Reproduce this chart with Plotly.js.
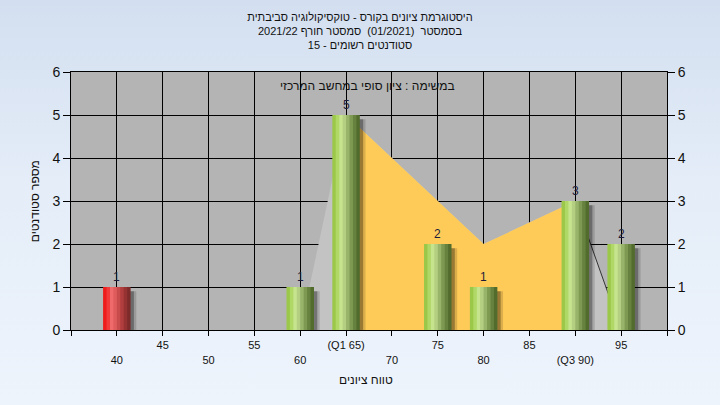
<!DOCTYPE html>
<html><head><meta charset="utf-8">
<script src="https://cdn.plot.ly/plotly-3.0.1.min.js"></script>
<style>
html,body{margin:0;padding:0;}
body{width:720px;height:405px;background:linear-gradient(to bottom,#d3dff0 0%,#e4edf8 45%,#eef4fc 100%);}
#chart{width:720px;height:405px;}
</style>
</head><body><div id="chart"></div>
<script>
// ---- data ----
const scores = [40, 45, 50, 55, 60, 65, 70, 75, 80, 85, 90, 95];
const counts = [1, 0, 0, 0, 1, 5, 0, 2, 1, 0, 3, 2];
const tickLabels = ['40', '45', '50', '55', '60', '(Q1 65)', '70', '75', '80', '85', '(Q3 90)', '95'];
const curveX = [60, 65, 80, 90, 95];
const curveY = [0, 5, 2, 3, 0];
const q1 = 65;
const q3 = 90;
const passMark = 55;
const titleLines = [
  'היסטוגרמת ציונים בקורס - טוקסיקולוגיה סביבתית',
  'בסמסטר  (01/2021)  סמסטר חורף 2021/22',
  'סטודנטים רשומים - 15'
];
const innerNote = 'במשימה : ציון סופי במחשב המרכזי';
const xTitle = 'טווח ציונים';
const yTitle = 'מספר סטודנטים';

// ---- helpers ----
const RLE = '\u202B', PDF = '\u202C';
const rtl = s => RLE + s + PDF;
const FONT = 'Liberation Sans, DejaVu Sans, Arial, sans-serif';

const barX = [], barY = [];
scores.forEach((s, i) => { if (counts[i] > 0) { barX.push(s); barY.push(counts[i]); } });

const greens = ['#9cc84a', '#b0d866', '#c6e38e', '#b4cf82', '#98b36a', '#7e9a52', '#66823e', '#526c2e'];
const reds   = ['#ee1c1c', '#f23a3a', '#ef6a6a', '#df5c5c', '#c84c4c', '#b03e3e', '#963232', '#7e2a2a'];
const N = greens.length, BW = 3, SW = BW / N;

const traces = [];
// full distribution polygon (light gray)
const grayX = curveX.concat([curveX[0]]);
const grayY = curveY.concat([curveY[0]]);
traces.push({type: 'scatter', x: grayX, y: grayY, mode: 'lines', fill: 'toself',
  fillcolor: '#c3c3c3', line: {width: 0, color: 'rgba(0,0,0,0)'}, hoverinfo: 'skip', xaxis: 'x', yaxis: 'y'});
// inter-quartile part (yellow)
const yx = [q1], yy = [0];
curveX.forEach((x, i) => { if (x >= q1 && x <= q3) { yx.push(x); yy.push(curveY[i]); } });
yx.push(q3); yy.push(0);
traces.push({type: 'scatter', x: yx, y: yy, mode: 'lines', fill: 'toself',
  fillcolor: '#ffcb58', line: {width: 0, color: 'rgba(0,0,0,0)'}, hoverinfo: 'skip', xaxis: 'x', yaxis: 'y'});
// upper tail line
const tx = [], ty = [];
curveX.forEach((x, i) => { if (x >= q3) { tx.push(x); ty.push(curveY[i]); } });
traces.push({type: 'scatter', x: tx, y: ty, mode: 'lines', line: {width: 1, color: '#333'},
  hoverinfo: 'skip', xaxis: 'x', yaxis: 'y'});

// shadows
[[0.62, 'rgba(0,0,0,0.14)'], [0.36, 'rgba(0,0,0,0.30)']].forEach(([dx, c]) => {
  traces.push({type: 'bar', x: barX, y: barY.map(v => v - 0.1), width: BW, offset: -BW / 2 + dx,
    marker: {color: c, line: {width: 0}}, hoverinfo: 'skip', xaxis: 'x2', yaxis: 'y2'});
});
// cylinder bars as stripes
for (let i = 0; i < N; i++) {
  traces.push({type: 'bar', x: barX, y: barY, width: (i === N - 1 ? SW : SW + 0.08), offset: -BW / 2 + i * SW,
    marker: {color: barX.map(s => s < passMark ? reds[i] : greens[i]), line: {width: 0}},
    hoverinfo: 'skip', xaxis: 'x2', yaxis: 'y2'});
}

// value labels as annotations anchored to the bar tops
const valueLabels = barX.map((x, i) => ({
  text: String(barY[i]), xref: 'x2', yref: 'y2', x: x, y: barY[i], showarrow: false,
  xanchor: 'center', yanchor: 'bottom', yshift: 1,
  font: {family: FONT, size: 12, color: '#1c1c3a'}
}));

const tickVals = [35].concat(scores, [100]);
const tickText = [''].concat(tickLabels.map((t, i) => i % 2 === 0 ? '<br>' + t : t), ['']);

const layout = {
  width: 720, height: 405,
  paper_bgcolor: 'rgba(0,0,0,0)', plot_bgcolor: '#b4b4b4',
  margin: {l: 71, r: 53, t: 72, b: 75, pad: 0},
  showlegend: false, barmode: 'overlay',
  font: {family: FONT, color: '#111'},
  title: {text: titleLines.map(rtl).join('<br>'), font: {family: FONT, size: 11, color: '#111'},
    xref: 'container', x: 0.5, xanchor: 'center', yref: 'container', y: 0.949, yanchor: 'top'},
  xaxis: {range: [35, 100], tickmode: 'array', tickvals: tickVals, ticktext: tickText,
    showgrid: true, gridcolor: '#000', gridwidth: 1, zeroline: false,
    ticks: 'outside', ticklen: 5, tickcolor: '#000', showline: true, linecolor: '#000', mirror: true,
    tickfont: {family: FONT, size: 11, color: '#111'}, fixedrange: true},
  yaxis: {range: [0, 6], dtick: 1, tick0: 0, showgrid: true, gridcolor: '#000', gridwidth: 1, zeroline: false,
    ticks: 'outside', ticklen: 7, tickcolor: '#000', showline: true, linecolor: '#000', mirror: true,
    tickfont: {family: FONT, size: 14, color: '#111'}, fixedrange: true},
  xaxis2: {overlaying: 'x', range: [35, 100], visible: false, fixedrange: true},
  yaxis2: {overlaying: 'y', side: 'right', range: [0, 6], dtick: 1, tick0: 0, showgrid: false, zeroline: false,
    ticks: 'outside', ticklen: 7, tickcolor: '#000', showline: true, linecolor: '#000',
    tickfont: {family: FONT, size: 14, color: '#111'}, fixedrange: true},
  annotations: [
    {text: rtl(innerNote), xref: 'paper', yref: 'paper', x: 0.498, y: 0.946, showarrow: false,
      xanchor: 'center', yanchor: 'middle', font: {family: FONT, size: 12, color: '#111'}},
    {text: rtl(xTitle), xref: 'paper', yref: 'paper', x: 0.495, y: -0.194, showarrow: false,
      xanchor: 'center', yanchor: 'middle', font: {family: FONT, size: 12, color: '#111'}},
    {text: rtl(yTitle), xref: 'paper', yref: 'paper', x: -0.06, y: 0.5, showarrow: false, textangle: -90,
      xanchor: 'center', yanchor: 'middle', font: {family: FONT, size: 12, color: '#111'}}
  ].concat(valueLabels)
};

Plotly.newPlot('chart', traces, layout, {staticPlot: true, displayModeBar: false});
</script></body></html>
